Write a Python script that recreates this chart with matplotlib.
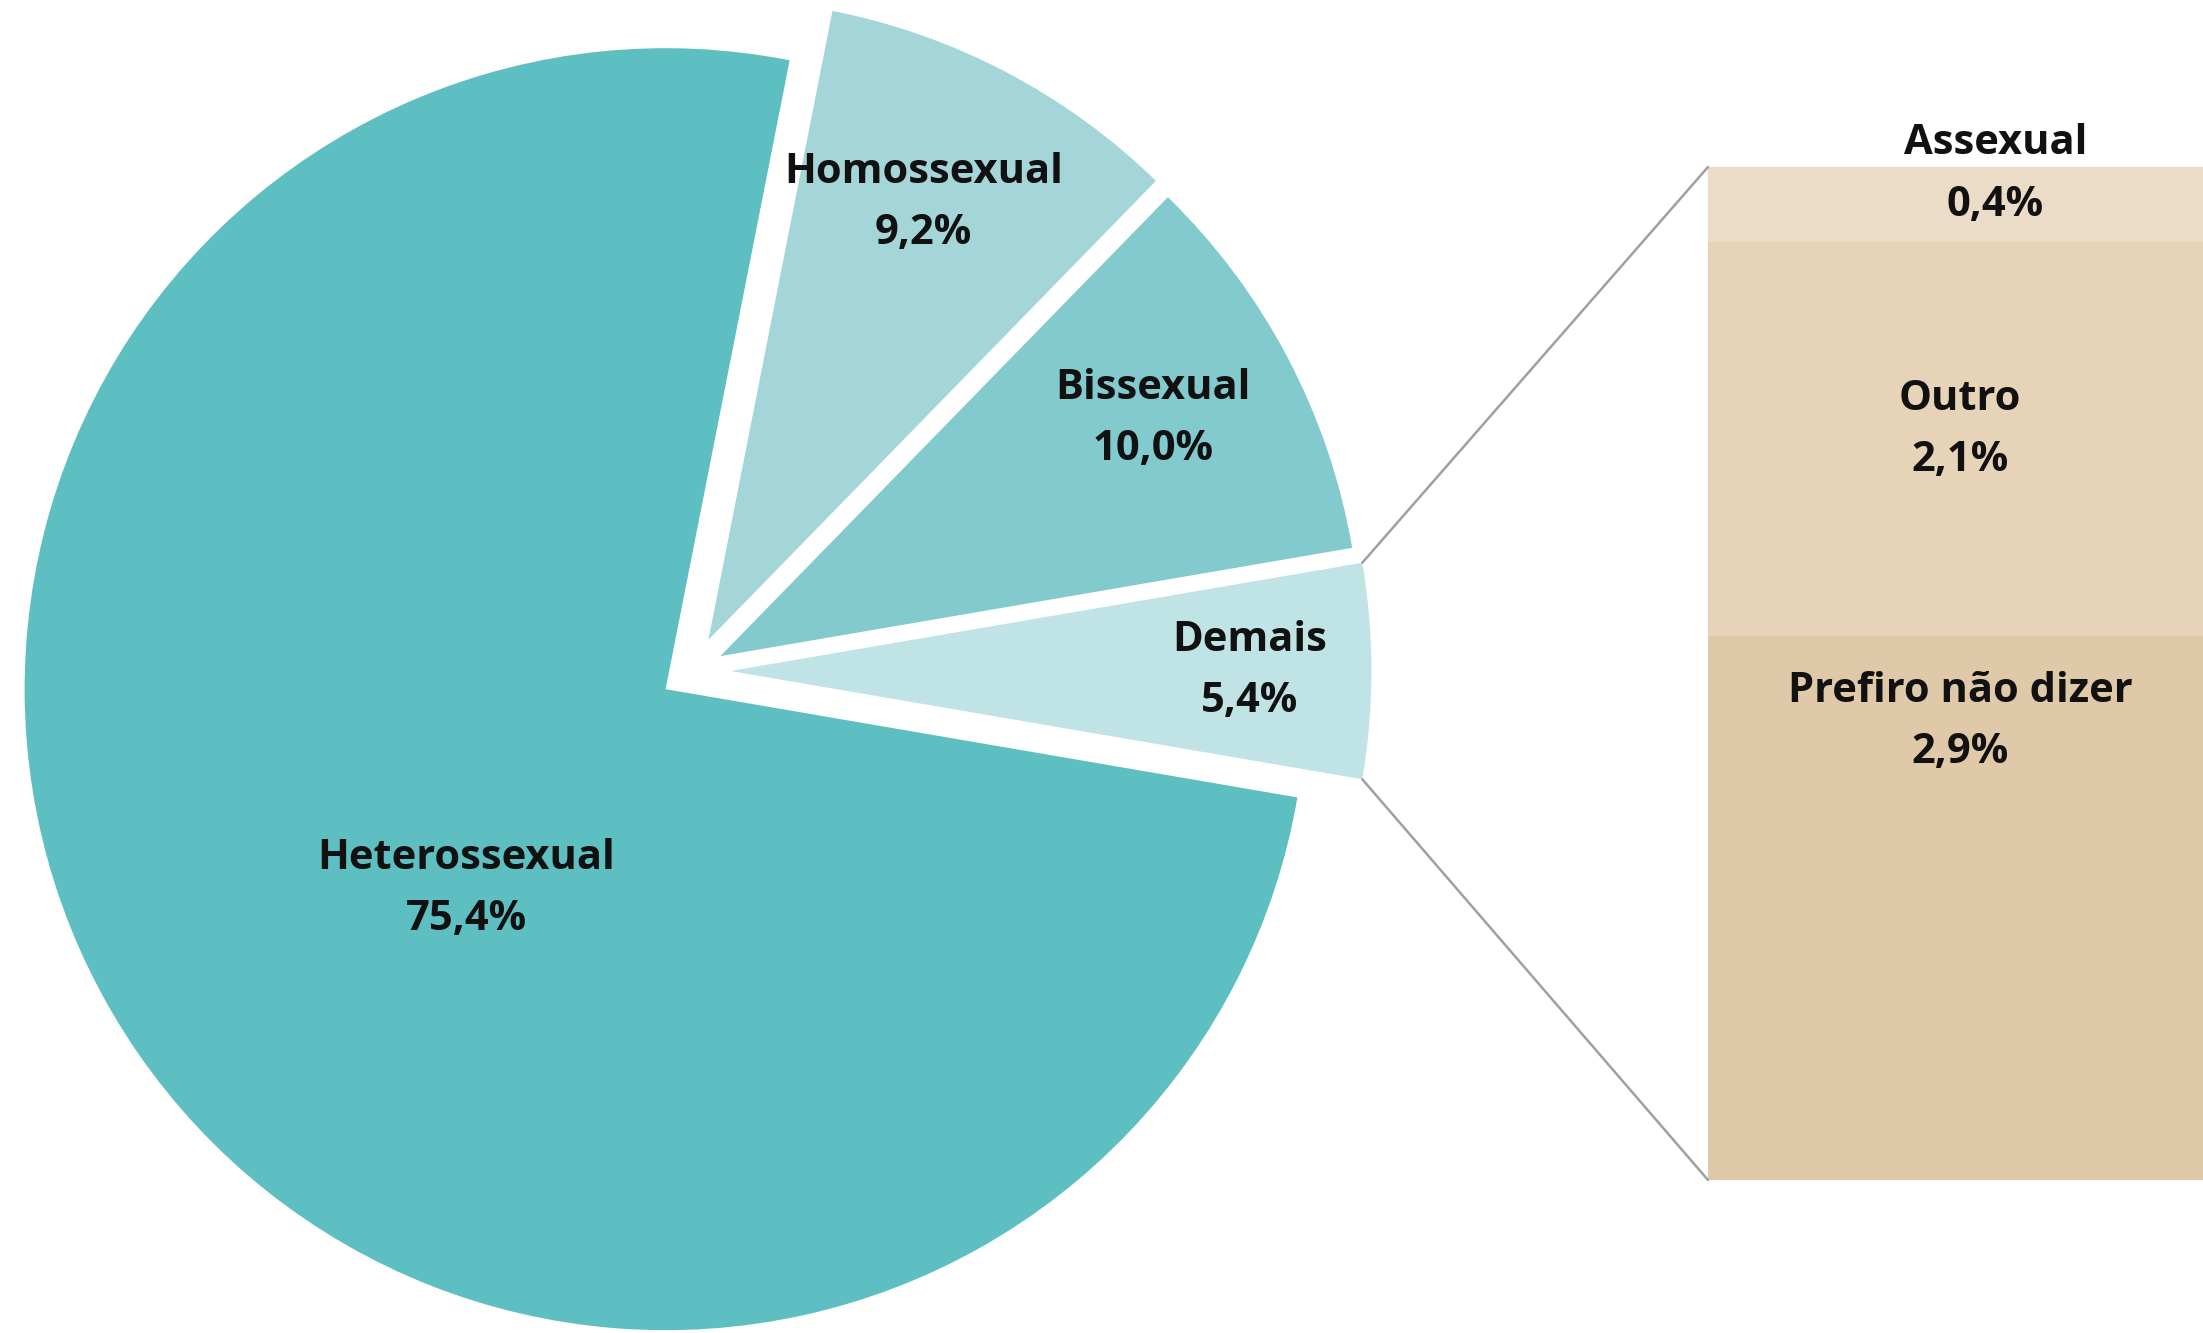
import matplotlib
matplotlib.use("Agg")
import matplotlib.pyplot as plt
from matplotlib.patches import ConnectionPatch
import numpy as np

plt.rcParams['font.family'] = ['Open Sans', 'DejaVu Sans']

# pie data (counter-clockwise, starting with the "Demais" slice on the right)
pie_labels = ['Demais', 'Bissexual', 'Homossexual', 'Heterossexual']
pie_values = [5.4, 10.0, 9.2, 75.4]
pie_colors = ['#C0E3E5', '#82CACD', '#A3D5D9', '#5EBFC2']
pie_explode = [0.06, 0.05, 0.055, 0.05]

# breakdown of "Demais" (stacked from the bottom)
bar_labels = ['Prefiro não dizer', 'Outro', 'Assexual']
bar_values = [2.9, 2.1, 0.4]
bar_colors = ['#E0C9A9', '#E6D3B8', '#EADCC7']


def fmt(v):
    return f"{v:.1f}".replace('.', ',') + '%'


W, H = 2203, 1333
fig = plt.figure(figsize=(W / 100, H / 100), dpi=100)

# pie axes covers whole figure, 1 data unit = radius
R_PX = 641
cx, cy = 692, H - 671
ax = fig.add_axes([0, 0, 1, 1])
start = -pie_values[0] / 100 * 360 / 2
wedges, _ = ax.pie(pie_values, colors=pie_colors, explode=pie_explode,
                   startangle=start, counterclock=True, radius=1)
ax.set_xlim(-cx / R_PX, (W - cx) / R_PX)
ax.set_ylim(-cy / R_PX, (H - cy) / R_PX)
ax.set_aspect('auto')
ax.axis('off')

FS = 30
LS = 1.65
label_dist = [0.81, 0.77, 0.76, 0.44]
label_rot = [0, 1, 1.5, 10.5]
for w, lab, v, d, rot in zip(wedges, pie_labels, pie_values, label_dist, label_rot):
    a = np.deg2rad((w.theta1 + w.theta2) / 2 + rot)
    x0, y0 = w.center
    ax.text(x0 + d * np.cos(a), y0 + d * np.sin(a), f"{lab}\n{fmt(v)}",
            ha='center', va='center', fontsize=FS, fontweight='bold',
            color='#111111', linespacing=LS)

# bar of pie
bx = fig.add_axes([1708 / W, (H - 1180) / H, 504 / W, 1013 / H])
bottoms = np.concatenate([[0], np.cumsum(bar_values)[:-1]])
bx.bar([0] * len(bar_values), bar_values, bottom=bottoms, width=1,
       color=bar_colors, edgecolor='none')
bx.set_xlim(-0.5, 0.5)
bx.set_ylim(0, sum(bar_values))
bx.axis('off')

bar_label_dx = [0.0, 0.0, 0.07]
bar_label_dy = [0.99, 0.05, 0.16]
for lab, v, b, dx, dy in zip(bar_labels, bar_values, bottoms, bar_label_dx, bar_label_dy):
    bx.text(dx, b + v / 2 + dy, f"{lab}\n{fmt(v)}", ha='center', va='center',
            fontsize=FS, fontweight='bold', color='#111111', linespacing=LS,
            clip_on=False)

# connector lines from the "Demais" wedge to the bar
dem = wedges[0]
for ang, ybar in [(dem.theta2, sum(bar_values)), (dem.theta1, 0)]:
    a = np.deg2rad(ang)
    p = (dem.center[0] + dem.r * np.cos(a), dem.center[1] + dem.r * np.sin(a))
    con = ConnectionPatch(xyA=p, coordsA=ax.transData, xyB=(-0.5, ybar),
                          coordsB=bx.transData, color='#A0A0A0', lw=1.8)
    fig.add_artist(con)

fig.savefig('out.png', dpi=100)
